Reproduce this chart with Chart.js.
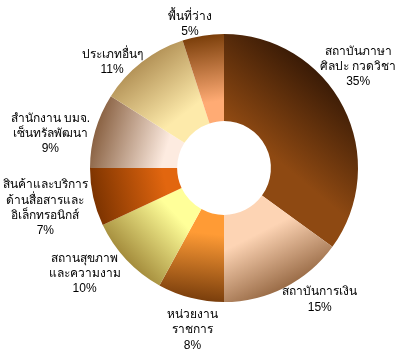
<!DOCTYPE html>
<html>
<head>
<meta charset="utf-8">
<script src="https://cdn.jsdelivr.net/npm/chart.js@4.4.1/dist/chart.umd.min.js"></script>
<style>
html,body{margin:0;padding:0;background:#fff;}
#wrap{width:399px;height:352px;position:relative;}
</style>
</head>
<body>
<div id="wrap"><canvas id="c" width="399" height="352"></canvas></div>
<script>
// ---- data ----
const categories = [
  ['สถาบันภาษา', 'ศิลปะ กวดวิชา'],
  ['สถาบันการเงิน'],
  ['หน่วยงาน', 'ราชการ'],
  ['สถานสุขภาพ', 'และความงาม'],
  ['สินค้าและบริการ', 'ด้านสื่อสารและ', 'อิเล็กทรอนิกส์'],
  ['สำนักงาน บมจ.', 'เซ็นทรัลพัฒนา'],
  ['ประเภทอื่นๆ'],
  ['พื้นที่ว่าง']
];
const shares = [35, 15, 8, 10, 7, 9, 11, 5];
const percentLabels = ['35%', '15%', '8%', '10%', '7%', '9%', '11%', '5%'];

// ---- styles ----
const lightColors = ['#8E4912', '#FDD4B4', '#FF9B35', '#FFFF99', '#E2660F', '#FDEBE0', '#FDEAAA', '#FFAB74'];
const darkColors  = ['#3A1B06', '#9A6C47', '#7A3E0C', '#A48C3C', '#7C3300', '#8A6243', '#B49358', '#7A3E0A'];
const gradStart   = [0.3, 0.55, 0.5, 0.5, 0.45, 0.45, 0.5, 0.5];
const gradDirNudge = [-23, 0, -8, 0, 0, 0, 0, 0]; // degrees
const labelAngleNudge = [-10, -9, -3.4, 6, 0, -5, -8.8, -4.3];
const labelRadius = [1.254, 1.216, 1.231, 1.306, 1.366, 1.321, 1.149, 1.104];

const total = shares.reduce((a, b) => a + b, 0);

function sliceColor(ctx) {
  const chart = ctx.chart;
  const i = ctx.dataIndex;
  const area = chart.chartArea;
  if (!area || i === undefined) return lightColors[i] || '#ccc';
  const cx = (area.left + area.right) / 2;
  const cy = (area.top + area.bottom) / 2;
  const R = Math.min(area.right - area.left, area.bottom - area.top) / 2;
  let before = 0;
  for (let k = 0; k < i; k++) before += shares[k];
  const mid = (before + shares[i] / 2) / total * 360 + gradDirNudge[i];
  const t = mid * Math.PI / 180;
  const g = chart.ctx.createLinearGradient(cx, cy, cx + R * Math.sin(t), cy - R * Math.cos(t));
  g.addColorStop(0, lightColors[i]);
  g.addColorStop(gradStart[i], lightColors[i]);
  g.addColorStop(1, darkColors[i]);
  return g;
}

const labelPlugin = {
  id: 'outsideLabels',
  afterDatasetsDraw(chart) {
    const meta = chart.getDatasetMeta(0);
    const c = chart.ctx;
    c.save();
    c.font = '12px "Liberation Sans", Arial, "Noto Sans", sans-serif';
    c.fillStyle = '#000';
    c.textAlign = 'center';
    c.textBaseline = 'middle';
    meta.data.forEach((arc, i) => {
      const p = arc.getProps(['x', 'y', 'startAngle', 'endAngle', 'outerRadius'], true);
      const mid = (p.startAngle + p.endAngle) / 2 + labelAngleNudge[i] * Math.PI / 180;
      const r = p.outerRadius * labelRadius[i];
      const px = p.x + Math.cos(mid) * r;
      const py = p.y + Math.sin(mid) * r;
      const lines = categories[i].concat([percentLabels[i]]);
      const lh = 15.3;
      const y0 = py - (lines.length - 1) * lh / 2;
      lines.forEach((ln, j) => c.fillText(ln, px, y0 + j * lh));
    });
    c.restore();
  }
};

new Chart(document.getElementById('c'), {
  type: 'doughnut',
  data: {
    labels: categories.map(l => l.join(' ')),
    datasets: [{
      data: shares,
      backgroundColor: sliceColor,
      borderWidth: 0,
      hoverOffset: 0
    }]
  },
  options: {
    responsive: false,
    animation: false,
    cutout: '35%',
    layout: { padding: { left: 90, right: 41, top: 34, bottom: 50 } },
    plugins: {
      legend: { display: false },
      tooltip: { enabled: false }
    }
  },
  plugins: [labelPlugin]
});
</script>
</body>
</html>
